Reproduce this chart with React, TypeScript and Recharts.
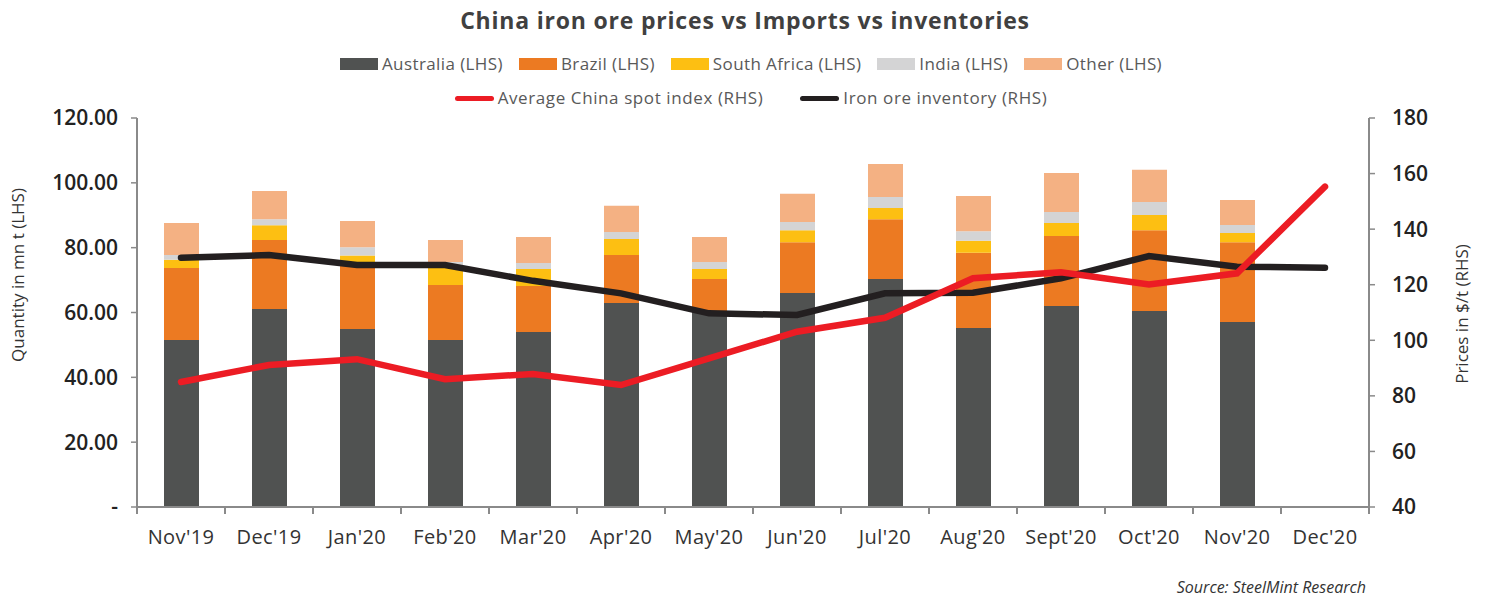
import React from "react";
import {
  ComposedChart,
  Bar,
  Line,
  XAxis,
  YAxis,
} from "recharts";

const FONT = "'Open Sans', 'Noto Sans', sans-serif";

const months = ["Nov'19", "Dec'19", "Jan'20", "Feb'20", "Mar'20", "Apr'20", "May'20", "Jun'20", "Jul'20", "Aug'20", "Sept'20", "Oct'20", "Nov'20", "Dec'20"];
const australia = [51.5, 61.1, 54.9, 51.5, 54.0, 62.9, 60.2, 66.0, 70.3, 55.2, 62.0, 60.5, 57.1, null];
const brazil = [22.2, 21.3, 19.5, 17.0, 14.2, 14.8, 10.1, 15.7, 18.5, 23.2, 21.6, 24.9, 24.6, null];
const southAfrica = [2.6, 4.5, 3.2, 5.5, 5.2, 5.0, 3.1, 3.7, 3.4, 3.7, 4.0, 4.7, 2.8, null];
const india = [1.4, 1.9, 2.5, 1.6, 1.9, 2.1, 2.2, 2.5, 3.4, 3.0, 3.4, 4.0, 2.5, null];
const other = [9.9, 8.7, 8.1, 6.8, 8.0, 8.1, 7.7, 8.7, 10.2, 10.8, 12.0, 9.9, 7.7, null];
const spotIndex = [85.0, 91.1, 93.2, 86.0, 87.9, 83.9, 93.5, 103.1, 108.1, 122.3, 124.5, 120.1, 124.1, 155.3];
const inventory = [129.7, 130.7, 127.1, 127.1, 121.4, 116.9, 109.7, 109.1, 116.9, 117.1, 122.3, 130.3, 126.5, 126.1];

const leftTicks = [0, 20, 40, 60, 80, 100, 120];
const rightTicks = [40, 60, 80, 100, 120, 140, 160, 180];

const COLORS = {
  australia: "#505251",
  brazil: "#EC7A22",
  southAfrica: "#FDBF12",
  india: "#D4D4D5",
  other: "#F4B183",
  spot: "#EC1C24",
  inventory: "#231F20",
  axis: "#8a8a8a",
};

const data = months.map((m, i) => ({
  month: m,
  australia: australia[i],
  brazil: brazil[i],
  southAfrica: southAfrica[i],
  india: india[i],
  other: other[i],
  spot: spotIndex[i],
  inventory: inventory[i],
}));

const barLegend = [
  { label: "Australia (LHS)", color: COLORS.australia },
  { label: "Brazil (LHS)", color: COLORS.brazil },
  { label: "South Africa (LHS)", color: COLORS.southAfrica },
  { label: "India (LHS)", color: COLORS.india },
  { label: "Other (LHS)", color: COLORS.other },
];
const lineLegend = [
  { label: "Average China spot index (RHS)", color: COLORS.spot },
  { label: "Iron ore inventory (RHS)", color: COLORS.inventory },
];

// category label centred, tick mark drawn on the band boundary
function XTick(props: any) {
  const { x, y, payload, index } = props;
  const half = 44;
  const last = index === months.length - 1;
  return (
    <g>
      <line x1={x - half} x2={x - half} y1={y} y2={y + 7} stroke={COLORS.axis} strokeWidth={2} />
      {last && <line x1={x + half} x2={x + half} y1={y} y2={y + 7} stroke={COLORS.axis} strokeWidth={2} />}
      <text x={x} y={y + 37} textAnchor="middle" fontSize={20} letterSpacing={0.4} fill="#333" fontFamily={FONT}>
        {payload.value}
      </text>
    </g>
  );
}

export default function App() {
  return (
    <div style={{ position: "relative", width: 1470, height: 590, fontFamily: FONT, color: "#333" }}>
      <div
        style={{
          position: "absolute",
          top: 0,
          left: 0,
          width: 1470,
          paddingLeft: 4,
          boxSizing: "border-box",
          textAlign: "center",
          fontSize: 23,
          letterSpacing: 0.8,
          lineHeight: "24px",
          fontWeight: 700,
          color: "#404040",
        }}
      >
        China iron ore prices vs Imports vs inventories
      </div>

      <div
        style={{
          position: "absolute",
          top: 46,
          left: 0,
          width: 1470,
          paddingLeft: 16,
          boxSizing: "border-box",
          display: "flex",
          justifyContent: "center",
          gap: 16,
          fontSize: 17,
          letterSpacing: 0.4,
          lineHeight: "20px",
          color: "#595959",
        }}
      >
        {barLegend.map((l) => (
          <span key={l.label} style={{ display: "flex", alignItems: "center", gap: 4 }}>
            <span style={{ display: "inline-block", width: 38, height: 12, background: l.color }} />
            {l.label}
          </span>
        ))}
      </div>

      <div
        style={{
          position: "absolute",
          top: 80,
          left: 0,
          width: 1470,
          paddingLeft: 16,
          boxSizing: "border-box",
          display: "flex",
          justifyContent: "center",
          gap: 37,
          fontSize: 17,
          letterSpacing: 0.6,
          lineHeight: "20px",
          color: "#595959",
        }}
      >
        {lineLegend.map((l) => (
          <span key={l.label} style={{ display: "flex", alignItems: "center", gap: 4 }}>
            <span style={{ display: "inline-block", width: 39, height: 5, borderRadius: 3, background: l.color }} />
            {l.label}
          </span>
        ))}
      </div>

      <div
        style={{
          position: "absolute",
          left: 10 - 100,
          top: 267 - 11,
          width: 200,
          textAlign: "center",
          fontSize: 17,
          lineHeight: "22px",
          transform: "rotate(-90deg)",
          color: "#333",
        }}
      >
        Quantity in mn t (LHS)
      </div>
      <div
        style={{
          position: "absolute",
          left: 1454 - 100,
          top: 306 - 11,
          width: 200,
          textAlign: "center",
          fontSize: 17,
          lineHeight: "22px",
          transform: "rotate(-90deg)",
          color: "#333",
        }}
      >
        Prices in $/t (RHS)
      </div>

      <div style={{ position: "absolute", top: 0, left: 0 }}>
        <ComposedChart
          width={1470}
          height={590}
          data={data}
          margin={{ top: 110, right: 0, bottom: 51, left: 0 }}
        >
          <XAxis
            dataKey="month"
            height={40}
            interval={0}
            tickSize={0}
            tickMargin={0}
            tickLine={false}
            axisLine={{ stroke: COLORS.axis, strokeWidth: 2 }}
            tick={<XTick />}
          />
          <YAxis
            yAxisId="left"
            width={129}
            domain={[0, 120]}
            ticks={leftTicks}
            interval={0}
            tickSize={6}
            tickMargin={13}
            tickLine={{ stroke: COLORS.axis, strokeWidth: 1.5 }}
            axisLine={{ stroke: COLORS.axis, strokeWidth: 2 }}
            tick={{ fontSize: 21, fontWeight: 600, fill: "#222", fontFamily: FONT }}
            tickFormatter={(v: number) => (v === 0 ? "-" : v.toFixed(2))}
          />
          <YAxis
            yAxisId="right"
            orientation="right"
            width={109}
            domain={[40, 180]}
            ticks={rightTicks}
            interval={0}
            tickSize={6}
            tickMargin={17}
            tickLine={{ stroke: COLORS.axis, strokeWidth: 1.5 }}
            axisLine={{ stroke: COLORS.axis, strokeWidth: 2 }}
            tick={{ fontSize: 21, fontWeight: 600, fill: "#222", fontFamily: FONT }}
          />
          <Bar yAxisId="left" dataKey="australia" stackId="imports" fill={COLORS.australia} barSize={35} isAnimationActive={false} />
          <Bar yAxisId="left" dataKey="brazil" stackId="imports" fill={COLORS.brazil} barSize={35} isAnimationActive={false} />
          <Bar yAxisId="left" dataKey="southAfrica" stackId="imports" fill={COLORS.southAfrica} barSize={35} isAnimationActive={false} />
          <Bar yAxisId="left" dataKey="india" stackId="imports" fill={COLORS.india} barSize={35} isAnimationActive={false} />
          <Bar yAxisId="left" dataKey="other" stackId="imports" fill={COLORS.other} barSize={35} isAnimationActive={false} />
          <Line
            yAxisId="right"
            dataKey="inventory"
            type="linear"
            stroke={COLORS.inventory}
            strokeWidth={6.5}
            strokeLinecap="round"
            dot={false}
            activeDot={false}
            isAnimationActive={false}
          />
          <Line
            yAxisId="right"
            dataKey="spot"
            type="linear"
            stroke={COLORS.spot}
            strokeWidth={6.5}
            strokeLinecap="round"
            dot={false}
            activeDot={false}
            isAnimationActive={false}
          />
        </ComposedChart>
      </div>

      <div
        style={{
          position: "absolute",
          top: 568,
          right: 112,
          fontSize: 16,
          lineHeight: "22px",
          fontStyle: "italic",
          color: "#333",
        }}
      >
        Source: SteelMint Research
      </div>
    </div>
  );
}
